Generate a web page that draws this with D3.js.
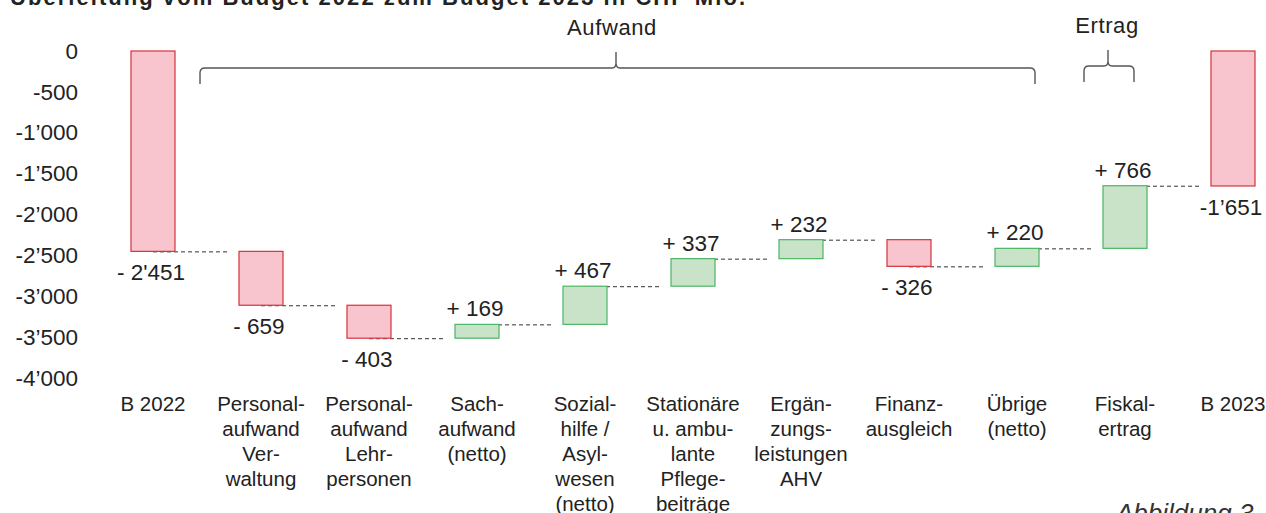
<!DOCTYPE html>
<html>
<head>
<meta charset="utf-8">
<script src="https://cdn.jsdelivr.net/npm/d3@7"></script>
<style>
  body { margin: 0; background: #fff; }
  svg { display: block; font-family: "Liberation Sans", Arial, sans-serif; }
</style>
</head>
<body>
<div id="chart"></div>
<script>
// data
const categories = ["B 2022", "Personalaufwand Verwaltung", "Personalaufwand Lehrpersonen",
    "Sachaufwand (netto)", "Sozialhilfe / Asylwesen (netto)", "Stationäre u. ambulante Pflegebeiträge",
    "Ergänzungsleistungen AHV", "Finanzausgleich", "Übrige (netto)", "Fiskalertrag", "B 2023"];
const categoryLines = [
    ["B 2022"],
    ["Personal-", "aufwand", "Ver-", "waltung"],
    ["Personal-", "aufwand", "Lehr-", "personen"],
    ["Sach-", "aufwand", "(netto)"],
    ["Sozial-", "hilfe /", "Asyl-", "wesen", "(netto)"],
    ["Stationäre", "u. ambu-", "lante", "Pflege-", "beiträge"],
    ["Ergän-", "zungs-", "leistungen", "AHV"],
    ["Finanz-", "ausgleich"],
    ["Übrige", "(netto)"],
    ["Fiskal-", "ertrag"],
    ["B 2023"]
];
const values = [-2451, -659, -403, 169, 467, 337, 232, -326, 220, 766, -1651];
const isTotal = [true, false, false, false, false, false, false, false, false, false, true];
const valueLabels = ["- 2'451", "- 659", "- 403", "+ 169", "+ 467", "+ 337", "+ 232", "- 326", "+ 220", "+ 766", "-1\u2019651"];
const yTicks = [0, -500, -1000, -1500, -2000, -2500, -3000, -3500, -4000];
const yTickLabels = ["0", "-500", "-1\u2019000", "-1\u2019500", "-2\u2019000", "-2\u2019500", "-3\u2019000", "-3\u2019500", "-4\u2019000"];

const width = 1266, height = 513;
const barWidth = 44;
const textColor = "#222";

const svg = d3.select("#chart").append("svg")
    .attr("width", width)
    .attr("height", height);

// scales
const x = d3.scalePoint().domain(categories).range([153, 1233]);
const y = d3.scaleLinear().domain([0, -4000]).range([51, 378]);

// waterfall steps
let running = 0;
const bars = categories.map((c, i) => {
    let start, end;
    if (isTotal[i]) { start = 0; end = values[i]; }
    else { start = running; end = running + values[i]; }
    running = end;
    return { cat: c, start, end, value: values[i], label: valueLabels[i] };
});

// title (cut off at the top)
svg.append("text")
    .attr("x", 10).attr("y", 5)
    .attr("font-size", 22).attr("font-weight", "bold")
    .attr("fill", textColor)
    .attr("textLength", 735)
    .text("Überleitung vom Budget 2022 zum Budget 2023 in CHF Mio.");

// y axis (labels only)
const yAxis = svg.append("g")
    .attr("transform", "translate(78,0)")
    .call(d3.axisLeft(y).tickValues(yTicks).tickSize(0).tickPadding(0)
        .tickFormat((d, i) => yTickLabels[i]));
yAxis.select(".domain").remove();
yAxis.selectAll("text")
    .attr("font-size", 22.5)
    .attr("font-family", "'Liberation Sans', Arial, sans-serif")
    .attr("fill", textColor);

// connectors
svg.append("g").selectAll("line")
    .data(bars.slice(0, -1))
    .join("line")
    .attr("x1", d => x(d.cat))
    .attr("x2", (d, i) => x(categories[i + 1]) - barWidth / 2 - 9)
    .attr("y1", d => y(d.end) + 0.5)
    .attr("y2", d => y(d.end) + 0.5)
    .attr("stroke", "#333")
    .attr("stroke-width", 1)
    .attr("stroke-dasharray", "4,3");

// bars
const red = { fill: "#f8c4cd", stroke: "#d8323a" };
const green = { fill: "#c9e3c9", stroke: "#4db565" };
svg.append("g").selectAll("rect")
    .data(bars)
    .join("rect")
    .attr("x", d => x(d.cat) - barWidth / 2)
    .attr("y", d => y(Math.max(d.start, d.end)))
    .attr("width", barWidth)
    .attr("height", d => Math.abs(y(d.end) - y(d.start)))
    .attr("fill", d => d.value < 0 ? red.fill : green.fill)
    .attr("stroke", d => d.value < 0 ? red.stroke : green.stroke)
    .attr("stroke-width", 1.2);

// value labels
svg.append("g").selectAll("text")
    .data(bars)
    .join("text")
    .attr("x", d => x(d.cat) - 2)
    .attr("y", d => d.value < 0 ? y(Math.min(d.start, d.end)) + 29 : y(Math.max(d.start, d.end)) - 8)
    .attr("text-anchor", "middle")
    .attr("font-size", 22.5)
    .attr("fill", textColor)
    .text(d => d.label);

// category labels
const catG = svg.append("g").selectAll("text")
    .data(categories)
    .join("text")
    .attr("x", d => x(d))
    .attr("y", 411)
    .attr("text-anchor", "middle")
    .attr("font-size", 20.5)
    .attr("fill", textColor);
catG.selectAll("tspan")
    .data((d, i) => categoryLines[i])
    .join("tspan")
    .attr("x", function () { return this.parentNode.getAttribute("x"); })
    .attr("dy", (d, i) => i === 0 ? 0 : 25)
    .text(d => d);

// braces
function brace(x1, x2, xm, yh, yEnd, yTip) {
    const r = 5;
    return `M${x1},${yEnd} L${x1},${yh + r} Q${x1},${yh} ${x1 + r},${yh}` +
        ` L${xm - 4},${yh} Q${xm},${yh} ${xm},${yh - 5} L${xm},${yTip}` +
        ` M${xm},${yh - 5} Q${xm},${yh} ${xm + 4},${yh}` +
        ` L${x2 - r},${yh} Q${x2},${yh} ${x2},${yh + r} L${x2},${yEnd}`;
}
svg.append("path")
    .attr("d", brace(x(categories[1]) - 61, x(categories[8]) + 18, 616, 68, 84, 52))
    .attr("fill", "none").attr("stroke", "#555").attr("stroke-width", 1.4);
svg.append("path")
    .attr("d", brace(x(categories[9]) - 41, x(categories[9]) + 9, 1108, 66, 82, 50))
    .attr("fill", "none").attr("stroke", "#555").attr("stroke-width", 1.4);

svg.append("text").attr("x", 612).attr("y", 35)
    .attr("text-anchor", "middle").attr("font-size", 22).attr("fill", textColor)
    .attr("letter-spacing", 0.6)
    .text("Aufwand");
svg.append("text").attr("x", 1107).attr("y", 33)
    .attr("text-anchor", "middle").attr("font-size", 22).attr("fill", textColor)
    .attr("letter-spacing", 0.6)
    .text("Ertrag");

// figure caption (cut off at the bottom)
svg.append("text").attr("x", 1116).attr("y", 522)
    .attr("font-size", 26).attr("font-style", "italic").attr("fill", "#333")
    .text("Abbildung 3");
</script>
</body>
</html>
